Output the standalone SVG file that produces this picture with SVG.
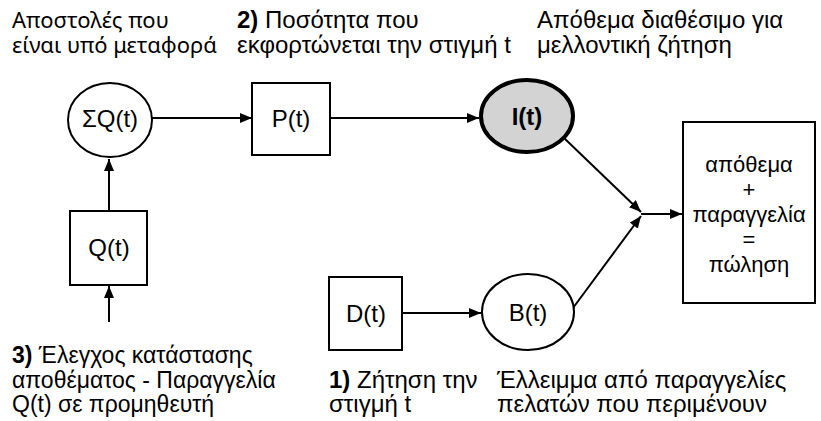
<svg xmlns="http://www.w3.org/2000/svg" width="821" height="421" viewBox="0 0 821 421">
<style>
text{font-family:"Liberation Sans",Arial,sans-serif;font-size:24px;fill:#000}
.s{font-family:"Noto Sans","DejaVu Sans",sans-serif;font-size:22px}
.m{font-size:22px}
.c{text-anchor:middle}
.b{font-weight:bold}
.n{fill:#fff;stroke:#000;stroke-width:2}
.e{stroke:#000;stroke-width:2;fill:none;marker-end:url(#ah)}
</style>
<defs>
<marker id="ah" viewBox="0 0 12 10" refX="12" refY="5" markerWidth="12" markerHeight="10" markerUnits="userSpaceOnUse" orient="auto">
<path d="M0,0 L12,5 L0,10 Z" fill="#000"/>
</marker>
</defs>
<rect width="821" height="421" fill="#fff"/>
<g id="connectors">
<line class="e" x1="152" y1="118" x2="252" y2="118"/>
<line class="e" x1="330" y1="118" x2="479" y2="118"/>
<line class="e" x1="109" y1="211" x2="109" y2="159"/>
<line class="e" x1="109" y1="322" x2="109" y2="286"/>
<line class="e" x1="402" y1="313" x2="481" y2="313"/>
<line class="e" x1="564" y1="138" x2="641" y2="212"/>
<line class="e" x1="573" y1="308" x2="641" y2="216"/>
<line class="e" x1="641" y1="214" x2="682" y2="214"/>
</g>
<g id="SQ"><ellipse class="n" cx="110" cy="120" rx="42" ry="37"/><text class="c" x="110" y="127">ΣQ(t)</text></g>
<g id="P"><rect class="n" x="252" y="83" width="78" height="72"/><text class="c" x="291" y="127">P(t)</text></g>
<g id="I"><ellipse cx="527" cy="116" rx="46" ry="36" fill="#d3d3d3" stroke="#000" stroke-width="4"/><text class="c b" x="527" y="125">I(t)</text></g>
<g id="Q"><rect class="n" x="70" y="211" width="77" height="74"/><text class="c" x="109" y="256">Q(t)</text></g>
<g id="D"><rect class="n" x="329" y="277" width="73" height="73"/><text class="c" x="366" y="322">D(t)</text></g>
<g id="B"><ellipse class="n" cx="528" cy="312" rx="46" ry="38"/><text class="c" x="528" y="321">B(t)</text></g>
<g id="out"><rect class="n" x="683" y="122" width="132" height="181"/>
<text class="c m" x="749" y="172"><tspan x="749">απόθεμα</tspan><tspan x="749" dy="25">+</tspan><tspan x="749" dy="25">παραγγελία</tspan><tspan x="749" dy="25">=</tspan><tspan x="749" dy="25">πώληση</tspan></text></g>
<g id="labels">
<text class="s" x="12" y="28"><tspan x="12">Αποστολές που</tspan><tspan x="12" dy="25">είναι υπό μεταφορά</tspan></text>
<text x="237" y="28"><tspan x="237"><tspan class="b">2)</tspan> Ποσότητα που</tspan><tspan x="237" dy="25">εκφορτώνεται την στιγμή t</tspan></text>
<text x="537" y="28"><tspan x="537">Απόθεμα διαθέσιμο για</tspan><tspan x="537" dy="25">μελλοντική ζήτηση</tspan></text>
<text x="12" y="363" style="font-size:23px"><tspan x="12"><tspan class="b">3)</tspan> Έλεγχος κατάστασης</tspan><tspan x="12" dy="25">αποθέματος - Παραγγελία</tspan><tspan x="12" dy="24">Q(t) σε προμηθευτή</tspan></text>
<text x="329" y="388"><tspan x="329"><tspan class="b">1)</tspan> Ζήτηση την</tspan><tspan x="329" dy="24">στιγμή t</tspan></text>
<text x="497" y="388"><tspan x="497">Έλλειμμα από παραγγελίες</tspan><tspan x="497" dy="24">πελατών που περιμένουν</tspan></text>
</g>
</svg>
